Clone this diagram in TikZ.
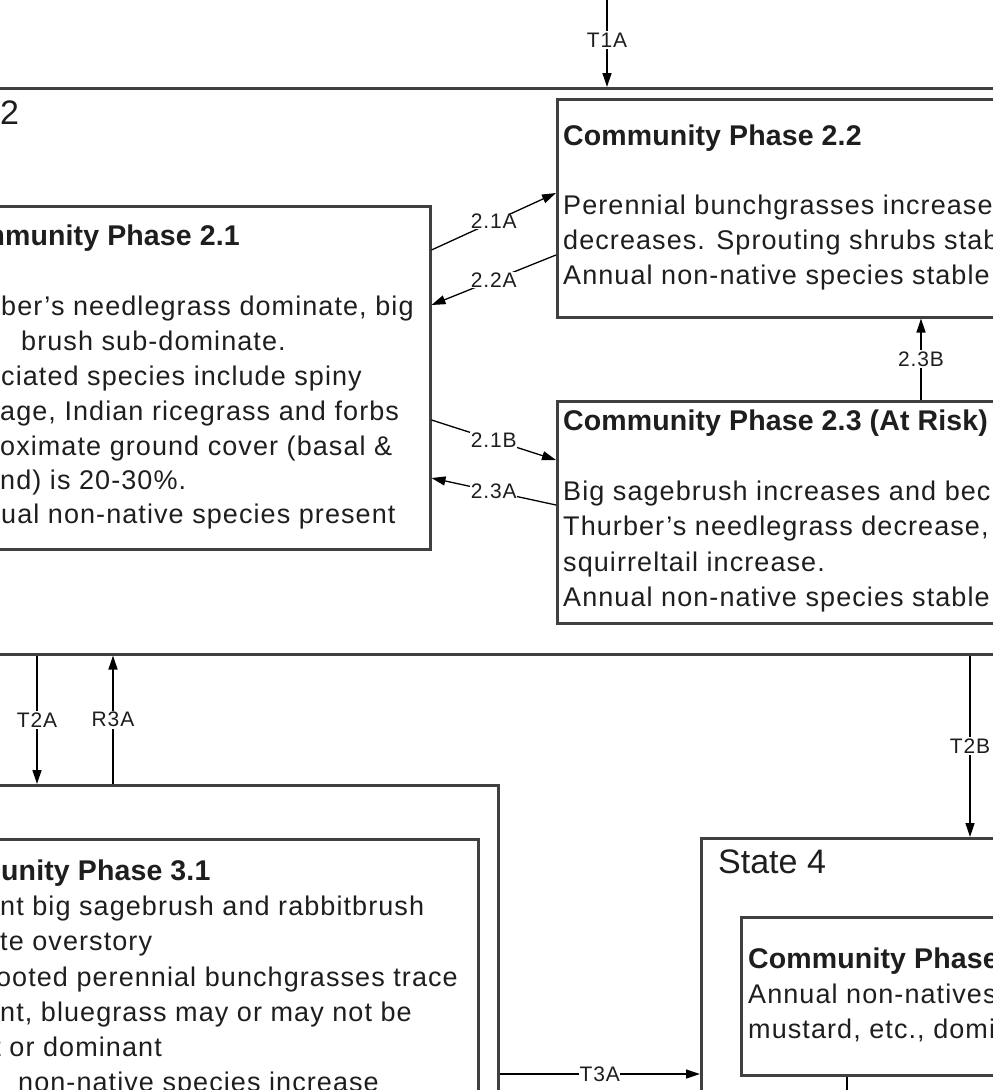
\documentclass[tikz,border=0pt]{standalone}
\usepackage{fontspec}
\setmainfont{Liberation Sans}
\newfontfamily\bodyf[LetterSpace=4]{Liberation Sans}
\newfontfamily\ttlf[LetterSpace=0.5]{Liberation Sans}
\usetikzlibrary{arrows.meta}
\definecolor{boxgray}{HTML}{404040}
\definecolor{txt}{HTML}{1E1E1E}
\tikzset{
  box/.style={draw=boxgray, line width=2.5pt, fill=white, anchor=north west, inner sep=0pt},
  body/.style={anchor=base west, inner sep=0pt, font=\bodyf\fontsize{27}{35}\selectfont, text=txt},
  bodyr/.style={body, anchor=base east},
  ttl/.style={anchor=base west, inner sep=0pt, font=\ttlf\bfseries\fontsize{28.5}{35}\selectfont, text=txt},
  ttlr/.style={ttl, anchor=base east},
  stt/.style={anchor=base west, inner sep=0pt, font=\fontsize{34}{40}\selectfont, text=txt},
  lbl/.style={fill=white, inner sep=1.5pt, font=\bodyf\fontsize{21}{23}\selectfont, text=txt},
  conn/.style={draw=black, line width=1.3pt, -{Triangle[length=14pt,width=9pt]}},
  plain/.style={draw=black, line width=1.3pt},
}
\begin{document}
\begin{tikzpicture}[x=1pt,y=-1pt]
\useasboundingbox (0,0) rectangle (993,1090);
\clip (0,0) rectangle (993,1090);
\fill[white] (0,0) rectangle (993,1090);

% State 2 container
\node[box, minimum width=1040pt, minimum height=566pt] (s2) at (-25,87) {};
\node[stt] (s2t) at (0,124) {2};

% Phase 2.2
\node[box, minimum width=600pt, minimum height=218pt] (p22) at (556,98) {};
\node[ttl] (p22h) at (563,145) {Community Phase 2.2};
\foreach \t [count=\i] in {{Perennial bunchgrasses increase},{decreases. Sprouting shrubs stab},{Annual non-native species stable}}
  \node[body] (p22b\i) at (563,{214+35*(\i-1)}) {\t};

% Phase 2.1
\node[box, minimum width=560pt, minimum height=343pt] (p21) at (-131,205) {};
\node[ttlr] (p21h) at (240,245) {mmunity Phase 2.1};
\node[body] (p21b1) at (1,315) {ber’s needlegrass dominate, big};
\node[body] (p21b2) at (21,350) {brush sub-dominate.};
\node[body] (p21b3) at (1,385) {ciated species include spiny};
\node[body] (p21b4) at (0,420) {age, Indian ricegrass and forbs};
\node[body] (p21b5) at (0,455) {oximate ground cover (basal \&};
\node[body] (p21b6) at (0,489) {nd) is 20-30\%.};
\node[body] (p21b7) at (1,523) {ual non-native species present};

% Phase 2.3
\node[box, minimum width=600pt, minimum height=222pt] (p23) at (556,400) {};
\node[ttl] (p23h) at (563,430) {Community Phase 2.3 (At Risk)};
\foreach \t [count=\i] in {{Big sagebrush increases and bec},{Thurber’s needlegrass decrease,},{squirreltail increase.},{Annual non-native species stable}}
  \node[body] (p23b\i) at (563,{500+35.5*(\i-1)}) {\t};

% State 3
\node[box, minimum width=620pt, minimum height=400pt] (s3) at (-123,784) {};
\node[box, minimum width=600pt, minimum height=350pt] (p31) at (-123,838) {};
\node[ttl] (p31h) at (1,880) {unity Phase 3.1};
\node[body] (p31b1) at (0,915) {nt big sagebrush and rabbitbrush};
\node[body] (p31b2) at (0,950) {te overstory};
\node[bodyr] (p31b3) at (458,986) {ooted perennial bunchgrasses trace};
\node[body] (p31b4) at (0,1021) {nt, bluegrass may or may not be};
\node[bodyr] (p31b5) at (162,1056) {t or dominant};
\node[body] (p31b6) at (18,1091) {non-native species increase};

% State 4
\node[box, minimum width=500pt, minimum height=400pt] (s4) at (700,837) {};
\node[stt] (s4t) at (718,873) {State 4};
\node[box, minimum width=400pt, minimum height=158pt] (p4) at (740,916) {};
\node[ttl] (p4h) at (748,968) {Community Phase};
\node[body] (p4b1) at (748,1003) {Annual non-natives};
\node[body] (p4b2) at (748,1038) {mustard, etc., domi};

% connectors
\coordinate (t1src) at (607,-20);
\draw[conn] (t1src) -- node[lbl, pos=0.56] {T1A} (t1src |- s2.north);

\draw[conn] ([yshift=-45pt]p21.north east) -- node[lbl, inner sep=0.5pt] {2.1A} ([yshift=-95pt]p22.north west);
\draw[conn] ([yshift=-157pt]p22.north west) -- node[lbl, inner sep=0.5pt] {2.2A} ([yshift=-100pt]p21.north east);
\draw[conn] ([yshift=-215pt]p21.north east) -- node[lbl, inner sep=0.5pt] {2.1B} ([yshift=-60pt]p23.north west);
\draw[conn] ([yshift=-105pt]p23.north west) -- node[lbl, inner sep=0.5pt] {2.3A} ([yshift=-273pt]p21.north east);

\coordinate (c23b) at (921,0);
\draw[conn] (c23b |- p23.north) -- node[lbl] {2.3B} (c23b |- p22.south);

\coordinate (xt2a) at (37,0);
\coordinate (xr3a) at (113,0);
\coordinate (xt2b) at (970,0);
\draw[conn] (xt2a |- s2.south) -- node[lbl] {T2A} (xt2a |- s3.north);
\draw[conn] (xr3a |- s3.north) -- node[lbl] {R3A} (xr3a |- s2.south);
\draw[conn] (xt2b |- s2.south) -- node[lbl, pos=0.5] {T2B} (xt2b |- s4.north);

\coordinate (yt3a) at (0,1074);
\draw[conn] (yt3a -| s3.east) -- node[lbl, inner sep=0.5pt] {T3A} (yt3a -| s4.west);

\coordinate (xp4) at (847,0);
\coordinate (p4end) at (847,1110);
\draw[plain] (xp4 |- p4.south) -- (p4end);
\end{tikzpicture}
\end{document}
